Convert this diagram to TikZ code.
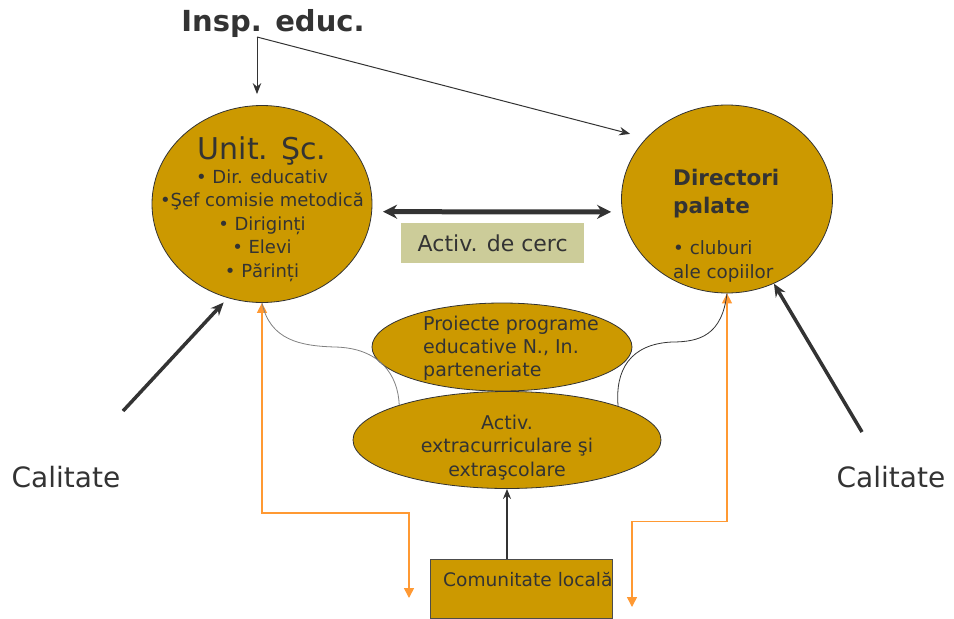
\documentclass[tikz,border=0pt]{standalone}
\usepackage{fontspec}
\setmainfont{DejaVu Sans}
\usetikzlibrary{shapes.geometric,arrows.meta}
\definecolor{gold}{RGB}{204,153,0}
\definecolor{pale}{RGB}{204,204,153}
\definecolor{orng}{RGB}{255,153,51}
\definecolor{ink}{RGB}{51,51,51}
\begin{document}
\begin{tikzpicture}[x=1pt,y=-1pt,>={Stealth[length=11pt,width=8.5pt]},
    main node/.style={ellipse,draw=black!80,line width=0.8pt,fill=gold,inner sep=0pt},
    text node/.style={text=ink,inner sep=0pt},
    big arrow/.style={-{Stealth[length=13pt,width=11pt]},draw=ink,line width=3.5pt},
    orange line/.style={{Triangle[length=10pt,width=10pt]}-{Triangle[length=10pt,width=10pt]},draw=orng,line width=1.5pt}]
    \useasboundingbox (0,0) rectangle (954,619);
    \node[text node,font=\bfseries\fontsize{29}{29}\selectfont] (1) at (273,23) {Insp. educ.};
    \node[main node,minimum width=220,minimum height=197] (2) at (262,204) {};
    \node[text node,align=center,anchor=north,font=\fontsize{18}{23.5}\selectfont] (2t) at (262,137)
      {{\fontsize{30}{30}\selectfont Unit. Şc.}\\• Dir. educativ\\•Şef comisie metodică\\• Diriginți\\• Elevi\\• Părinți};
    \node[main node,minimum width=211,minimum height=188] (3) at (727,199) {};
    \node[text node,align=left,anchor=north west,font=\bfseries\fontsize{21.5}{28}\selectfont] (3a) at (673,169) {Directori\\palate};
    \node[text node,align=left,anchor=north west,font=\fontsize{18.3}{24.5}\selectfont] (3b) at (673,240) {• cluburi\\ale copiilor};
    \node[text node,fill=pale,minimum width=183,minimum height=40,anchor=north west,font=\fontsize{22}{24}\selectfont] (4) at (401,223) {Activ. de cerc};
    \node[main node,minimum width=260,minimum height=88] (5) at (502,347) {};
    \node[text node,align=left,anchor=north west,font=\fontsize{19}{23}\selectfont] (5t) at (423,315.5)
      {Proiecte programe\\educative N., In.\\parteneriate};
    \node[main node,minimum width=308,minimum height=97] (6) at (507,440) {};
    \node[text node,align=center,anchor=north,font=\fontsize{19}{23.5}\selectfont] (6t) at (507,414.5)
      {Activ.\\extracurriculare şi\\extraşcolare};
    \node[rectangle,draw=black!70,line width=0.8pt,fill=gold,minimum width=182,minimum height=59,anchor=north west,inner sep=0pt] (7) at (430,559) {};
    \node[text node,anchor=base west,font=\fontsize{18.6}{22}\selectfont] (7t) at (443,586) {Comunitate locală};
    \node[text node,font=\fontsize{28}{28}\selectfont] (10) at (66,477) {Calitate};
    \node[text node,font=\fontsize{28}{28}\selectfont] (11) at (891,477) {Calitate};
    \coordinate (1s) at (257,37);
    \coordinate (8) at (409,598);
    \coordinate (9) at (632,607);
    \coordinate (12) at (123,411);
    \coordinate (13) at (862,432);
    % arrows
    \draw[->,draw=ink,line width=1pt,shorten >=11] (1s) -- (1s |- 2.north);
    \draw[->,draw=ink,line width=1pt,shorten >=16.5] (1s) -- (3.143.5);
    \draw[{Stealth[length=14pt,width=14pt]}-{Stealth[length=14pt,width=14pt]},draw=ink,line width=5pt,
      shorten <=11,shorten >=11] (2.-4.7) -- (3.187.7);
    \draw[-{Stealth[length=10pt,width=8pt]},draw=ink,line width=2pt] (7.north -| 6.south) -- (6.south);
    \draw[big arrow,shorten >=6] (12) -- (2.-110);
    \draw[big arrow] (13) -- (3.-61);
    \draw[orange line] (2.south) -- ++(0,210) -| (8);
    \draw[orange line] (3.south) -- ++(0,228) -| (9);
    % thin links
    \draw[draw=gray,line width=0.8pt] (2.south) .. controls (270,340) and (300,346) .. (335,347)
      .. controls (380,348) and (398,375) .. (6.162.5);
    \draw[draw=ink,line width=0.8pt] (3.south) .. controls (722,335) and (700,342) .. (672,342)
      .. controls (630,344) and (615,370) .. (6.17.5);
\end{tikzpicture}
\end{document}
